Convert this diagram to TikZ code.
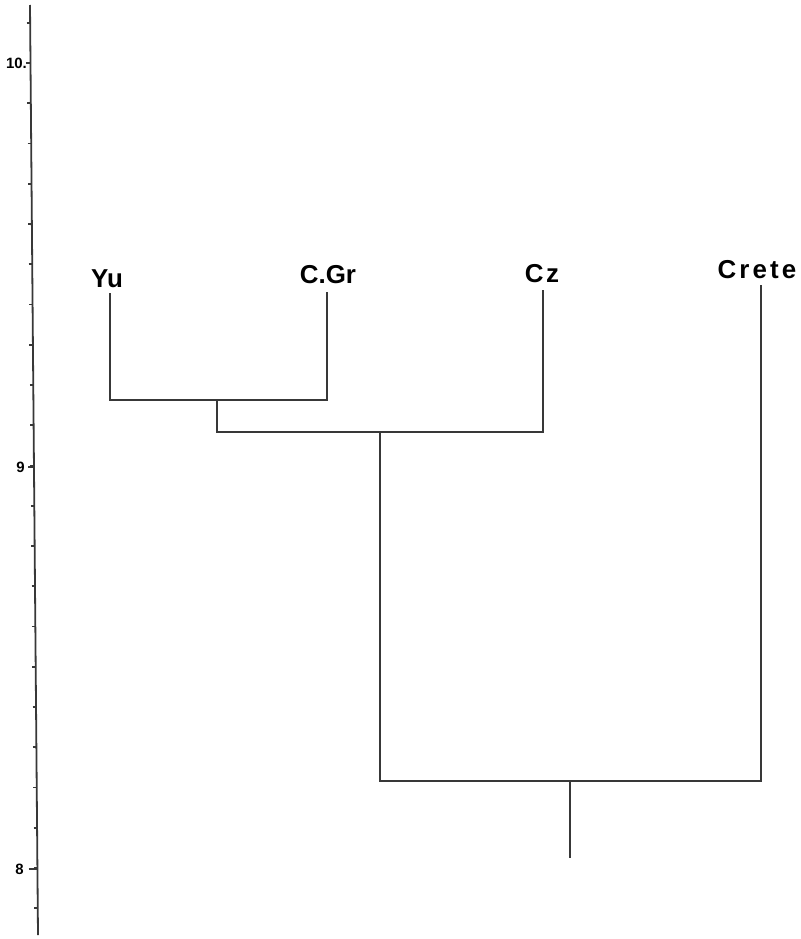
\documentclass[tikz,border=0pt]{standalone}
\usepackage{fontspec}
\usepackage{tikz}
\newfontfamily\lblfont{Liberation Sans}
\tikzset{
  tree/.style={line width=2.2bp,color=black!78},
  leaf/.style={font=\lblfont\bfseries\fontsize{26}{26}\selectfont,inner sep=0pt,anchor=base},
  num/.style={font=\lblfont\bfseries\fontsize{15}{15}\selectfont,inner sep=0pt,anchor=base east}
}
\begin{document}
\begin{tikzpicture}[x=1bp,y=-1bp]
        \useasboundingbox[fill=white](0,0)rectangle(801,939);
        % scale
        \draw[tree,line width=1.8bp](30,5)--(38,935);
        \foreach \v in {0,...,22}{
            \pgfmathsetmacro{\yy}{22.75+\v*40.25}
            \pgfmathsetmacro{\xx}{30+(\yy-5)*8/930}
            \draw[tree,line width=1.8bp](\xx-3.5,\yy)--(\xx,\yy);
        }
        \draw[tree,line width=1.8bp](26,63)--(30.5,63);
        \draw[tree,line width=1.8bp](28,467)--(33.5,467);
        \draw[tree,line width=1.8bp](28.5,869)--(36.5,869);
        \node[num] (n10) at (27,68){10.};
        \node[num] (n9) at (25,472){9};
        \node[num] (n8) at (24,874){8};
        % labels
        \node[leaf] (Yu) at (107,287){Yu};
        \node[leaf] (CGr) at (328,283){C.Gr};
        \node[leaf] (Cz) at (542,282){\addfontfeature{LetterSpace=10}Cz};
        \node[leaf] (Crete) at (757,278){\addfontfeature{LetterSpace=12}Crete};
        % tree
        \coordinate (tYu) at (110,293);
        \coordinate (tCGr) at (327,292);
        \coordinate (tCz) at (543,290);
        \coordinate (tCrete) at (761,285);
        \coordinate (jA) at (217,400);
        \coordinate (jB) at (380,432);
        \coordinate (jC) at (570,781);
        \coordinate (root) at (570,858);
        \draw[tree](tYu)|-(jA)-|(tCGr);
        \draw[tree](jA)|-(jB)-|(tCz);
        \draw[tree](jB)|-(jC)-|(tCrete);
        \draw[tree](jC)--(root);
    \end{tikzpicture}
\end{document}
